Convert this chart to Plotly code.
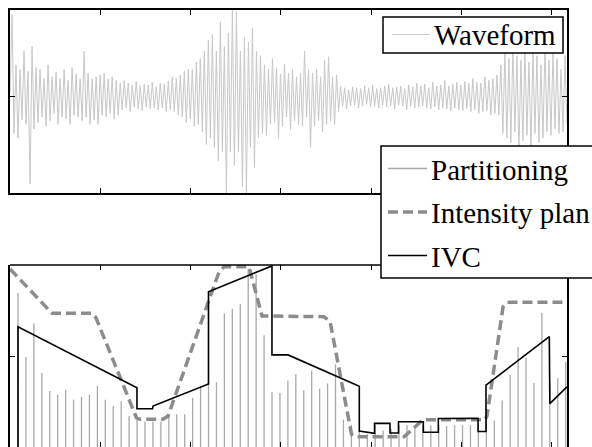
import numpy as np
import plotly.graph_objects as go

FONT = "Liberation Serif, Times New Roman, serif"

# ---- data ----
wave = [
    0.05, 0.9, -0.4, 0.35, -0.45, 0.3, -0.25, 0.5, -0.3, 0.28, -0.95, 0.55, -0.35, 0.32, -0.28,
    0.3, -0.22, 0.2, -0.32, 0.35, -0.26, 0.22, -0.18, 0.27, -0.3, 0.2, -0.22, 0.3, -0.24, 0.18, -0.3, 0.32, -0.2, 0.25, -0.22,
    0.2, -0.26, 0.5, -0.22, 0.26, -0.3, 0.2, -0.25, 0.22, -0.3, 0.24, -0.2, 0.26, -0.22, 0.2, -0.18, 0.22, -0.24, 0.18, -0.2,
    0.15, -0.14, 0.18, -0.12, 0.15, -0.16, 0.13, -0.11, 0.17, -0.13, 0.12, -0.15, 0.14, -0.11, 0.13, -0.13, 0.16, -0.12, 0.11, -0.14,
    0.15, -0.12, 0.14, -0.16, 0.17, -0.14, 0.22, -0.16, 0.2, -0.2,
    0.24, -0.22, 0.28, -0.28, 0.3, -0.24, 0.3, -0.32, 0.38, -0.3, 0.42, -0.38, 0.5, -0.52, 0.62, -0.45,
    0.68, -0.55, 0.5, -0.7, 0.82, -0.6, 0.55, -1.05, 0.7, -0.6, 0.95, -0.75, 0.93, -0.6, 0.5, -0.98, 0.65, -1.05, 0.6, -0.55,
    0.75, -0.77, 0.5, -0.45, 0.45, -0.4,
    0.35, -0.42, 0.3, -0.3, 0.42, -0.28, 0.32, -0.45, 0.25, -0.32, 0.36, -0.22, 0.26, -0.36, 0.3, -0.26, 0.22, -0.3,
    0.26, -0.32, 0.5, -0.22, 0.3, -0.55, 0.26, -0.32, 0.3, -0.26, 0.22, -0.38, 0.4, -0.3, 0.44, -0.26, 0.22, -0.3, 0.24, -0.16,
    0.12, -0.1, 0.1, -0.13, 0.08, -0.1, 0.11, -0.09, 0.1, -0.12, 0.09, -0.1, 0.12, -0.08, 0.1, -0.11, 0.13, -0.1, 0.09, -0.12,
    0.1, -0.09, 0.12, -0.11, 0.14, -0.1, 0.1, -0.13, 0.11, -0.09, 0.12, -0.1, 0.09, -0.14, 0.13, -0.1, 0.11, -0.12, 0.15, -0.11,
    0.12, -0.1, 0.14, -0.12, 0.1, -0.13, 0.16, -0.11, 0.12, -0.14, 0.13, -0.12, 0.18, -0.13, 0.12, -0.15, 0.14, -0.12, 0.16, -0.14,
    0.13, -0.15, 0.17, -0.13, 0.15, -0.16, 0.2, -0.14, 0.16, -0.18, 0.15, -0.16, 0.22, -0.15, 0.18, -0.2, 0.2, -0.18, 0.24, -0.2,
    0.35, -0.4, 0.5, -0.45, 0.42, -0.5, 0.55, -0.38, 0.45, -0.6, 0.4, -0.48, 0.52, -0.42, 0.38, -0.55, 0.5, -0.4, 0.45, -0.5,
    0.35, -0.45, 0.55, -0.38, 0.4, -0.42, 0.48, -0.35, 0.42, -0.4, 0.3, -0.38, 0.45, -0.3,
]

part_heights = [
    0.846, 0.495, 0.678, 0.407, 0.308, 0.288, 0.315, 0.26, 0.275, 0.288,
    0.335, 0.26, 0.225, 0.251, 0.17, 0.15, 0.14, 0.14, 0.14, 0.175,
    0.18, 0.18, 0.27, 0.33, 0.36, 0.356, 0.734, 0.76, 0.786, 0.98,
    0.95, 0.614, 0.302, 0.297, 0.366, 0.40, 0.312, 0.42, 0.321, 0.349,
    0.455, 0.15, 0.12, 0.09, 0.07, 0.12, 0.09, 0.10, 0.12, 0.12,
    0.11, 0.115, 0.12, 0.12, 0.115, 0.12, 0.12, 0.12, 0.13, 0.156,
    0.145, 0.255, 0.398, 0.55, 0.49, 0.352, 0.738, 0.36, 0.378, 0.468,
]

plan_x = [0.0, 0.465, 0.908, 0.952, 1.401, 1.440, 1.694, 1.750, 2.270, 2.314, 2.370, 2.647,
          2.791, 3.477, 3.544, 3.782, 3.821, 4.363, 4.574, 5.260, 5.282, 5.460, 5.504, 6.168]
plan_y = [0.978, 0.735, 0.735, 0.71, 0.16, 0.152, 0.152, 0.17, 0.9, 0.96, 0.99, 0.99,
          0.72, 0.716, 0.69, 0.07, 0.056, 0.056, 0.15, 0.15, 0.17, 0.77, 0.795, 0.795]

ivc_x = [0.0886, 0.0886, 1.406, 1.406, 1.578, 1.584, 2.198, 2.198, 2.901, 2.901, 3.079,
         3.868, 3.868, 4.037, 4.037, 4.208, 4.208, 4.302, 4.302, 4.577, 4.577, 4.743, 4.743,
         5.183, 5.183, 5.271, 5.271, 5.972, 5.978, 6.168]
ivc_y = [0.0, 0.66, 0.325, 0.21, 0.21, 0.225, 0.346, 0.853, 0.995, 0.506, 0.506,
         0.333, 0.088, 0.075, 0.13, 0.13, 0.077, 0.077, 0.139, 0.139, 0.081, 0.081, 0.157,
         0.158, 0.085, 0.085, 0.34, 0.607, 0.238, 0.33]

legend_top = ["Waveform"]
legend_bottom = ["Partitioning", "Intensity plan", "IVC"]

# ---- styles ----
WAVE_STYLE = dict(color="#c8c8c8", width=1)
PART_STYLE = dict(color="#a8a8a8", width=1.3)
PLAN_STYLE = dict(color="#8c8c8c", width=3.5, dash="10px,5px")
IVC_STYLE = dict(color="black", width=1.6)

X_MAX = 6.168
wave_x = np.linspace(0, X_MAX, len(wave))
part_x = [0.0886 + 0.0879 * k for k in range(len(part_heights))]

stem_x, stem_y = [], []
for px, h in zip(part_x, part_heights):
    stem_x += [px, px, None]
    stem_y += [0, h, None]

fig = go.Figure()
fig.add_trace(go.Scatter(x=wave_x, y=wave, mode="lines", name=legend_top[0],
                         line=WAVE_STYLE, xaxis="x", yaxis="y", showlegend=False))
fig.add_trace(go.Scatter(x=stem_x, y=stem_y, mode="lines", name=legend_bottom[0],
                         line=PART_STYLE, xaxis="x2", yaxis="y2", showlegend=False))
fig.add_trace(go.Scatter(x=plan_x, y=plan_y, mode="lines", name=legend_bottom[1],
                         line=PLAN_STYLE, xaxis="x2", yaxis="y2", showlegend=False))
fig.add_trace(go.Scatter(x=ivc_x, y=ivc_y, mode="lines", name=legend_bottom[2],
                         line=IVC_STYLE, xaxis="x2", yaxis="y2", showlegend=False))

# plot area in page pixels: x 10..567, y 10..447
PL, PR, PT, PB = 10.0, 567.0, 10.0, 447.0
W_PLOT, H_PLOT = PR - PL, PB - PT


def px_x(X):
    return (X - PL) / W_PLOT


def px_y(Y):
    return (PB - Y) / H_PLOT


top_dom = [px_y(193), 1]
bot_dom = [0, px_y(265)]

ax_common = dict(ticks="inside", ticklen=5, tickwidth=1, tickcolor="black",
                 showticklabels=False, showgrid=False, zeroline=False,
                 linecolor="black", linewidth=1.5)

shapes = [dict(type="line", xref="paper", yref="paper", x0=0, x1=1,
               y0=bot_dom[1], y1=bot_dom[1], line=dict(color="black", width=1.5))]
annotations = []

# legend boxes (drawn manually for a tight box)
BOX_LINE = dict(color="black", width=1.5)
shapes.append(dict(type="rect", xref="paper", yref="paper",
                   x0=px_x(383), x1=px_x(563), y0=px_y(53), y1=px_y(17),
                   fillcolor="white", line=BOX_LINE, layer="above"))
shapes.append(dict(type="rect", xref="paper", yref="paper",
                   x0=px_x(381), x1=px_x(620), y0=px_y(278), y1=px_y(146),
                   fillcolor="white", line=BOX_LINE, layer="above"))

legend_items = [
    (legend_top[0], WAVE_STYLE, 392, 430, 34.5, 433),
    (legend_bottom[0], PART_STYLE, 388, 427, 168.5, 430),
    (legend_bottom[1], PLAN_STYLE, 388, 427, 212, 430),
    (legend_bottom[2], IVC_STYLE, 388, 427, 255.5, 430),
]
for text, style, lx0, lx1, ly, tx in legend_items:
    shapes.append(dict(type="line", xref="paper", yref="paper",
                       x0=px_x(lx0), x1=px_x(lx1), y0=px_y(ly), y1=px_y(ly),
                       line=style, layer="above"))
    annotations.append(dict(text=text, xref="paper", yref="paper", x=px_x(tx), y=px_y(ly + 1),
                            xanchor="left", yanchor="middle", showarrow=False,
                            font=dict(family=FONT, size=29, color="black"),
                            borderpad=0))

fig.update_layout(
    width=592, height=447,
    margin=dict(l=PL, r=592 - PR, t=PT, b=0, autoexpand=False),
    paper_bgcolor="white", plot_bgcolor="white",
    font=dict(family=FONT, size=29, color="black"),
    xaxis=dict(domain=[0, 1], range=[0, X_MAX], tickvals=[1, 2, 3, 4, 5, 6],
               anchor="y", showline=True, mirror="ticks", **ax_common),
    yaxis=dict(domain=top_dom, range=[-1.05, 0.95], tickvals=[0],
               anchor="x", showline=True, mirror="ticks", **ax_common),
    xaxis2=dict(domain=[0, 1], range=[0, X_MAX], tickvals=[1, 2, 3, 4, 5, 6],
                anchor="y2", showline=False, mirror="ticks", **ax_common),
    yaxis2=dict(domain=bot_dom, range=[0, 1], tickvals=[0.5],
                anchor="x2", showline=True, mirror="ticks", **ax_common),
    shapes=shapes,
    annotations=annotations,
    showlegend=False,
)

fig.write_html(
    "out.html",
    config={"displayModeBar": False},
    post_script="document.body.style.margin='0';document.body.style.overflow='hidden';",
)
